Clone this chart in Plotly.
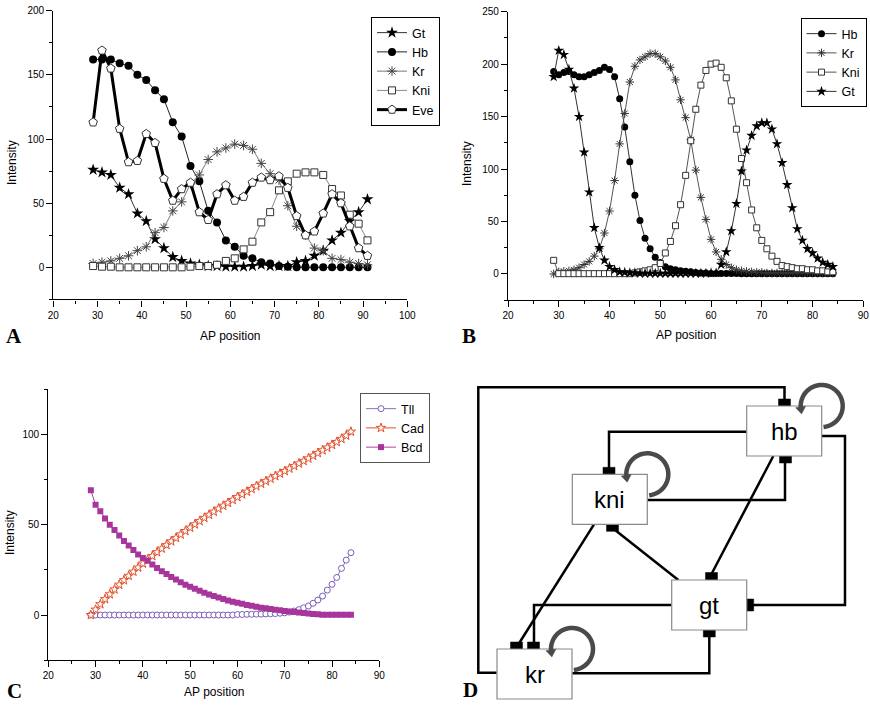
import numpy as np
import plotly.graph_objects as go

W, H = 870, 705
FONT = "Liberation Sans, Arial, sans-serif"
SERIF = "Liberation Serif, Times New Roman, serif"

# ---------------- Panel A data ----------------
xA = list(range(29, 92, 2))
gtA = [76, 74, 72, 62, 57, 42, 36, 22, 15, 8, 5, 3, 2, 1, 1, 0.5, 0.5, 0.5, 1, 2, 1, 1, 1, 4, 5, 9, 13, 21, 27, 36, 43, 53]
hbA = [162, 162, 162, 159, 157, 150, 146, 138, 131, 113, 102, 79, 67, 44, 35, 21, 16, 9, 7, 4, 3, 1, 0.5, 0, 0, 0, 0, 0, 0, 0, 0, 0]
krA = [3, 4, 5, 7, 9, 13, 16, 27, 31, 44, 51, 65, 72, 84, 90, 93, 96, 95, 92, 81, 73, 68, 48, 32, 25, 15, 13, 7, 6, 4, 3, 2]
kniA = [1, 0.5, 0.5, 0, 0, 0, 0, 0, 0, 0, 0, 0.5, 1, 1, 2, 5, 7, 14, 20, 35, 43, 60, 67, 73, 74, 74, 72, 61, 56, 41, 34, 21]
eveA = [113, 169, 155, 108, 82, 83, 104, 97, 69, 52, 61, 66, 43, 37, 57, 64, 52, 55, 66, 70, 68, 71, 62, 40, 25, 28, 42, 57, 50, 32, 15, 9]

# ---------------- Panel B data ----------------
xB = list(range(29, 85))
hbB = ([193, 190, 192, 193, 190, 188, 188, 190, 192, 194, 197, 195,
        188, 167, 140, 107, 75, 51, 34, 24, 16, 11, 7, 5,
        4, 3, 2.5, 2, 1.5, 1, 1, 0.5, 0.5, 0.5, 0.5, 0.5, 0.5]
       + [0.2] * 19)
krB = ([0, 2, 2.5, 3, 4, 6, 9, 12, 17, 24, 39, 60,
        89, 124, 153, 183, 198, 204, 207, 210, 210, 207, 203, 197,
        185, 166, 149, 128, 99, 73, 52, 33, 21, 14, 9, 6,
        4, 3, 2.5, 2, 1.5, 1.5] + [1] * 14)
kniB = ([13] + [0.3] * 15 +
        [1, 2, 3, 4, 6, 10, 20, 31, 46, 66, 94, 127, 157, 180, 194, 200, 201, 197, 187, 165,
         138, 110, 87, 61, 44, 32, 24, 17, 12, 8, 7, 6, 5, 5, 4, 4, 3, 3, 2, 2])
gtB = ([188, 213, 209, 195, 177, 150, 116, 78, 44, 25, 13, 7,
        4, 2, 1.5, 1, 1, 0.5, 0.5, 0.5, 0.5, 0.5, 0.5, 0.5,
        0.5, 0.5, 0.5, 0.5, 0.5, 0.5, 0.5, 1, 1,
        9, 21, 41, 67, 98, 118, 132, 141, 144, 144, 138, 124, 106, 85, 63, 43, 32, 24, 20, 15, 11, 9, 7])

# ---------------- Panel C data ----------------
xC = list(range(29, 85))
tllC = ([0] * 31 + [0.3, 0.3, 0.4, 0.4, 0.5, 0.5, 0.6, 0.7, 0.8] +
        [1.0, 1.2, 1.6, 2.2, 3.0, 4.0, 5.0, 6.5, 8.3, 10.5, 13.8, 17, 20.8, 25.8, 30.4, 34.5])
cadC = [0, 3, 6, 8.8, 11.5, 14.2, 16.8, 19.3, 21.7, 24, 26.3, 28.5, 30.6, 32.7, 34.8, 36.8, 38.8, 40.8,
        42.7, 44.6, 46.5, 48.4, 50.2, 52, 53.8, 55.5, 57.2, 58.9, 60.5, 62.1, 63.7, 65.3, 66.8, 68.3,
        69.8, 71.3, 72.7, 74.1, 75.5, 76.9, 78.3, 79.7, 81.1, 82.5, 83.9, 85.3, 86.7, 88.2, 89.7, 91.2,
        92.7, 94.2, 95.8, 97.5, 99.3, 101.5]
bcdC = [69, 61, 57.5, 53.5, 50, 47, 44, 41, 38.5, 36, 33.5, 31.5, 30, 28, 26, 24.3, 22.7, 21.1, 19.6, 18.2,
        16.8, 15.6, 14.5, 13.4, 12.4, 11.4, 10.5, 9.7, 8.9, 8.1, 7.4, 6.8, 6.2, 5.6, 5.1, 4.6, 4.1, 3.7,
        3.3, 2.9, 2.6, 2.3, 2.0, 1.7, 1.4, 1.1, 0.8, 0.6, 0.4, 0.2, 0.1, 0.1, 0.1, 0.1, 0.1, 0.1]

# ---------------- Panel D (network) ----------------
node_names = ["hb", "kni", "gt", "kr"]
node_cx = [784.2, 609.8, 709.2, 534.5]
node_cy = [431.0, 499.3, 605.0, 674.0]
BOX_W, BOX_H = 75, 50
self_loop_nodes = ["hb", "kni", "kr"]

edges = [
    [(496.7, 672.7), (478.3, 672.7), (478.3, 387.3), (784.5, 387.3), (784.5, 402)],
    [(746.7, 431.7), (609, 431.7), (609, 470)],
    [(647.3, 500), (785, 500), (785, 460)],
    [(773.3, 456), (711.5, 574)],
    [(821.7, 436), (845, 436), (845, 605), (750, 605)],
    [(678.3, 580), (612.5, 528)],
    [(594, 524.3), (518, 645)],
    [(671.7, 605), (534, 605), (534, 645)],
    [(572.3, 673.3), (709.3, 673.3), (709.3, 634)],
]
tbars = [  # x0, x1, y0, y1 in pixels
    (778.5, 790.5, 399, 406.5),
    (603, 615, 467.3, 474.3),
    (779.5, 791.5, 456, 463),
    (705.5, 717.5, 572.5, 580),
    (746.7, 753.7, 599, 611),
    (606.5, 618.5, 524.3, 531.3),
    (510.5, 522.5, 642, 649),
    (527.5, 539.5, 642, 649),
    (703.3, 715.3, 630, 637),
]


def px(x, y):
    return x / W, 1 - y / H


def path_str(pts, close=False):
    s = "M " + " L ".join("%.5f,%.5f" % px(x, y) for x, y in pts)
    return s + (" Z" if close else "")


def dom_x(a, b):
    return [a / W, b / W]


def dom_y(top, bottom):
    return [1 - bottom / H, 1 - top / H]


fig = go.Figure()

# Panel A traces
fig.add_trace(go.Scatter(x=xA, y=gtA, name="Gt", mode="lines+markers", xaxis="x", yaxis="y", legend="legend",
                         line=dict(color="#333333", width=1),
                         marker=dict(symbol="star", size=9, color="black")))
fig.add_trace(go.Scatter(x=xA, y=hbA, name="Hb", mode="lines+markers", xaxis="x", yaxis="y", legend="legend",
                         line=dict(color="#222222", width=1),
                         marker=dict(symbol="circle", size=8, color="black")))
fig.add_trace(go.Scatter(x=xA, y=krA, name="Kr", mode="lines+markers", xaxis="x", yaxis="y", legend="legend",
                         line=dict(color="#777777", width=1),
                         marker=dict(symbol="asterisk-open", size=8, color="#444444",
                                     line=dict(width=1, color="#444444"))))
fig.add_trace(go.Scatter(x=xA, y=kniA, name="Kni", mode="lines+markers", xaxis="x", yaxis="y", legend="legend",
                         line=dict(color="#888888", width=1),
                         marker=dict(symbol="square", size=7, color="white",
                                     line=dict(width=1, color="#333333"))))
fig.add_trace(go.Scatter(x=xA, y=eveA, name="Eve", mode="lines+markers", xaxis="x", yaxis="y", legend="legend",
                         line=dict(color="black", width=3),
                         marker=dict(symbol="pentagon", size=9, color="white",
                                     line=dict(width=1, color="#333333"))))

# Panel B traces
fig.add_trace(go.Scatter(x=xB, y=hbB, name="Hb", mode="lines+markers", xaxis="x2", yaxis="y2", legend="legend2",
                         line=dict(color="#333333", width=1),
                         marker=dict(symbol="circle", size=7, color="black")))
fig.add_trace(go.Scatter(x=xB, y=krB, name="Kr", mode="lines+markers", xaxis="x2", yaxis="y2", legend="legend2",
                         line=dict(color="#555555", width=1),
                         marker=dict(symbol="asterisk-open", size=7, color="#333333",
                                     line=dict(width=1, color="#333333"))))
fig.add_trace(go.Scatter(x=xB, y=kniB, name="Kni", mode="lines+markers", xaxis="x2", yaxis="y2", legend="legend2",
                         line=dict(color="#555555", width=1),
                         marker=dict(symbol="square", size=6, color="white",
                                     line=dict(width=1, color="#333333"))))
fig.add_trace(go.Scatter(x=xB, y=gtB, name="Gt", mode="lines+markers", xaxis="x2", yaxis="y2", legend="legend2",
                         line=dict(color="#333333", width=1),
                         marker=dict(symbol="star", size=8, color="black")))

# Panel C traces
fig.add_trace(go.Scatter(x=xC, y=tllC, name="Tll", mode="lines+markers", xaxis="x3", yaxis="y3", legend="legend3",
                         line=dict(color="#8a70c8", width=1),
                         marker=dict(symbol="circle", size=6, color="white",
                                     line=dict(width=1, color="#7a5cb8"))))
fig.add_trace(go.Scatter(x=xC, y=cadC, name="Cad", mode="lines+markers", xaxis="x3", yaxis="y3", legend="legend3",
                         line=dict(color="#e4502e", width=1),
                         marker=dict(symbol="star", size=7, color="white",
                                     line=dict(width=1, color="#e4502e"))))
fig.add_trace(go.Scatter(x=xC, y=bcdC, name="Bcd", mode="lines+markers", xaxis="x3", yaxis="y3", legend="legend3",
                         line=dict(color="#b040a0", width=1),
                         marker=dict(symbol="square", size=6, color="#a8359c")))

axis_common = dict(showline=True, linecolor="black", linewidth=1.2, ticks="outside", ticklen=6, tickwidth=1.2,
                   tickcolor="black", showgrid=False, zeroline=False, automargin=False,
                   tickfont=dict(family=FONT, size=10, color="black"))


def minor(d):
    return dict(ticks="outside", ticklen=3, tickwidth=1, tickcolor="black", showgrid=False, dtick=d)


legend_common = dict(bgcolor="white", borderwidth=1, font=dict(family=FONT, size=12.5, color="black"),
                     itemwidth=30, tracegroupgap=0, yanchor="top")

fig.update_layout(
    width=W, height=H, autosize=False,
    margin=dict(l=0, r=0, t=0, b=0, pad=0),
    paper_bgcolor="white", plot_bgcolor="white",
    font=dict(family=FONT, color="black"),
    xaxis=dict(domain=dom_x(53.3, 407.3), range=[20, 100], dtick=10, minor=minor(5), anchor="y", **axis_common),
    yaxis=dict(domain=dom_y(10.7, 299.4), range=[-25, 200], dtick=50, minor=minor(25), anchor="x", **axis_common),
    xaxis2=dict(domain=dom_x(508, 863.3), range=[20, 90], dtick=10, minor=minor(5), anchor="y2", **axis_common),
    yaxis2=dict(domain=dom_y(11.7, 300.2), range=[-25, 250], dtick=50, minor=minor(25), anchor="x2", **axis_common),
    xaxis3=dict(domain=dom_x(48.3, 379.3), range=[20, 90], dtick=10, minor=minor(5), anchor="y3", **axis_common),
    yaxis3=dict(domain=dom_y(389.2, 660.2), range=[-25, 125], dtick=50, minor=minor(25), anchor="x3", **axis_common),
    legend=dict(x=371 / W, y=1 - 17 / H, xanchor="left", bordercolor="black", **legend_common),
    legend2=dict(x=866.5 / W, y=1 - 18 / H, xanchor="right", bordercolor="black", **legend_common),
    legend3=dict(x=430 / W, y=1 - 393 / H, xanchor="right", bordercolor="#555555", **legend_common),
)

annotations = []


def add_text(text, x, y, size=12, angle=0, family=FONT, bold=False):
    annotations.append(dict(text=("<b>%s</b>" % text) if bold else text, x=x / W, y=1 - y / H,
                            xref="paper", yref="paper", showarrow=False, textangle=angle,
                            xanchor="center", yanchor="middle",
                            font=dict(family=family, size=size, color="black")))


# axis titles
add_text("Intensity", 12, 163, angle=-90)
add_text("AP position", 230, 336)
add_text("Intensity", 467, 164, angle=-90)
add_text("AP position", 686, 335)
add_text("Intensity", 10, 533, angle=-90)
add_text("AP position", 214, 692)
# panel letters
add_text("A", 13.5, 336, size=21, family=SERIF, bold=True)
add_text("B", 469, 336, size=21, family=SERIF, bold=True)
add_text("C", 14.5, 691, size=21, family=SERIF, bold=True)
add_text("D", 470.5, 690, size=21, family=SERIF, bold=True)

shapes = []
# edges
for pts in edges:
    shapes.append(dict(type="path", xref="paper", yref="paper", path=path_str(pts),
                       line=dict(color="black", width=2.5), layer="above"))
for x0, x1, y0, y1 in tbars:
    shapes.append(dict(type="path", xref="paper", yref="paper",
                       path=path_str([(x0, y0), (x1, y0), (x1, y1), (x0, y1)], close=True),
                       fillcolor="black", line=dict(color="black", width=0.5), layer="above"))
# boxes
for name, cx, cy in zip(node_names, node_cx, node_cy):
    x0, x1 = cx - BOX_W / 2, cx + BOX_W / 2
    y0, y1 = cy - BOX_H / 2, cy + BOX_H / 2
    shapes.append(dict(type="path", xref="paper", yref="paper",
                       path=path_str([(x0, y0), (x1, y0), (x1, y1), (x0, y1)], close=True),
                       fillcolor="white", line=dict(color="#8a8a8a", width=1.2), layer="above"))
    add_text(name, cx, cy, size=24)
# self loops
R = 21
for name in self_loop_nodes:
    i = node_names.index(name)
    cx = node_cx[i] + BOX_W / 2
    cy = node_cy[i] - BOX_H / 2
    th = np.radians(np.linspace(172, 445, 60))
    pts = list(zip(cx + R * np.cos(th), cy + R * np.sin(th)))
    shapes.append(dict(type="path", xref="paper", yref="paper", path=path_str(pts),
                       line=dict(color="#4a4a4a", width=4.5), layer="above"))
    t0 = th[0]
    sx, sy = cx + R * np.cos(t0), cy + R * np.sin(t0)
    ux, uy = np.sin(t0), -np.cos(t0)
    nx, ny = -uy, ux
    tip = (sx + ux * 5, sy + uy * 5)
    b1 = (sx - ux * 2 + nx * 5, sy - uy * 2 + ny * 5)
    b2 = (sx - ux * 2 - nx * 5, sy - uy * 2 - ny * 5)
    shapes.append(dict(type="path", xref="paper", yref="paper", path=path_str([tip, b1, b2], close=True),
                       fillcolor="#4a4a4a", line=dict(color="#4a4a4a", width=0.5), layer="above"))

fig.update_layout(annotations=annotations, shapes=shapes)
fig.write_html("out.html")
